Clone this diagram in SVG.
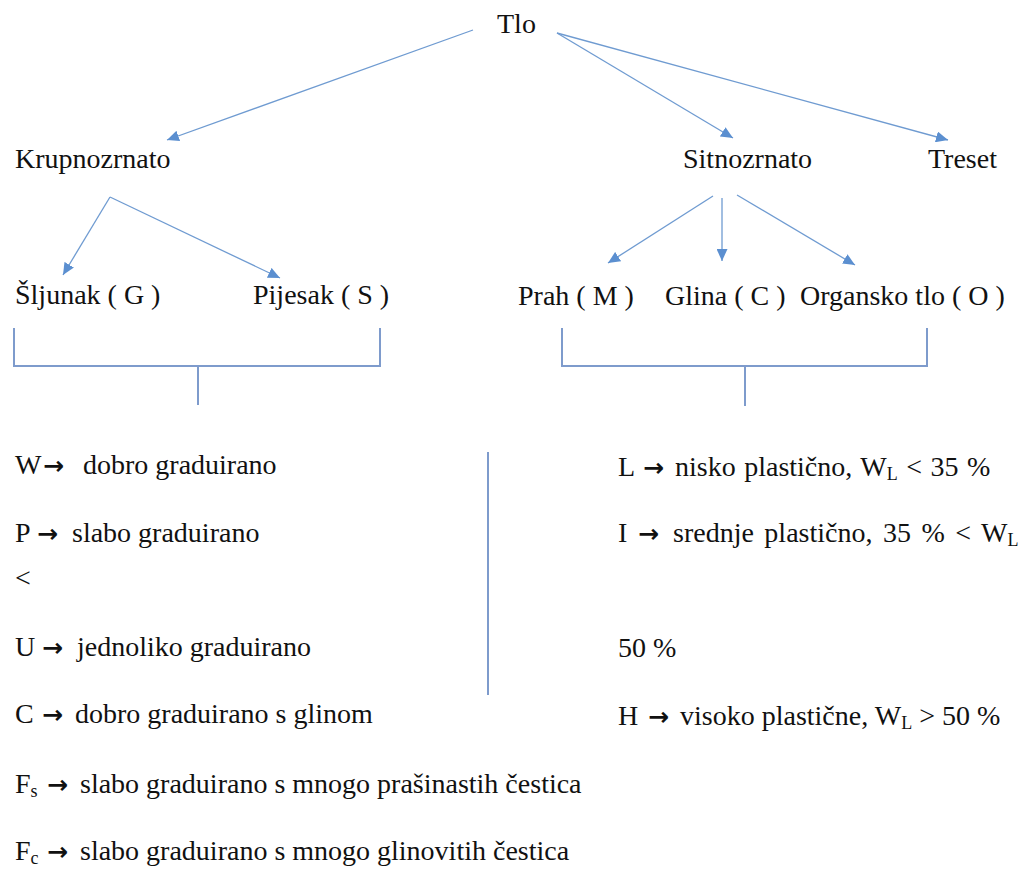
<svg xmlns="http://www.w3.org/2000/svg" width="1028" height="869" viewBox="0 0 1028 869">
<style>
.t{font-size:28px;fill:#111}
.ar{font-weight:bold;font-size:25px}
.sub{font-size:18px}
.con line{stroke:#6f9bd1;stroke-width:1.3;fill:none}
.br{stroke:#7e9bcc;stroke-width:2;fill:none}
</style>
<defs>
<marker id="ah" viewBox="0 0 12 11" refX="12" refY="5.5" markerWidth="12" markerHeight="11" markerUnits="userSpaceOnUse" orient="auto">
<path d="M0,0 L12,5.5 L0,11 Z" fill="#5b8fd0"/>
</marker>
</defs>
<rect width="1028" height="869" fill="#fff"/>
<g id="connectors" class="con">
<line x1="473" y1="30" x2="167" y2="140" marker-end="url(#ah)"/>
<line x1="557" y1="33" x2="733" y2="138" marker-end="url(#ah)"/>
<line x1="557" y1="33" x2="948" y2="140" marker-end="url(#ah)"/>
<line x1="110" y1="197" x2="63" y2="275" marker-end="url(#ah)"/>
<line x1="110" y1="197" x2="280" y2="278" marker-end="url(#ah)"/>
<line x1="713" y1="196" x2="608" y2="263" marker-end="url(#ah)"/>
<line x1="722" y1="198" x2="722" y2="261" marker-end="url(#ah)"/>
<line x1="737" y1="195" x2="855" y2="265" marker-end="url(#ah)"/>
<path class="br" d="M14,328 V366 H380 V328 M198,366 V405"/>
<path class="br" d="M562,328 V366 H927 V328 M745,366 V406"/>
<path class="br" d="M488,452 V695"/>
</g>
<g font-family="Liberation Serif" font-size="28">
<g id="tlo"><text class="t" font-family="Liberation Serif" x="497" y="33">Tlo</text></g>
<g id="krupnozrnato"><text class="t" font-family="Liberation Serif" x="15" y="168">Krupnozrnato</text></g>
<g id="sitnozrnato"><text class="t" font-family="Liberation Serif" x="683" y="168">Sitnozrnato</text></g>
<g id="treset"><text class="t" font-family="Liberation Serif" x="928" y="168">Treset</text></g>
<g id="sljunak"><text class="t" font-family="Liberation Serif" x="15" y="304">Šljunak ( G )</text></g>
<g id="pijesak"><text class="t" font-family="Liberation Serif" x="253" y="304">Pijesak ( S )</text></g>
<g id="prah"><text class="t" font-family="Liberation Serif" x="518" y="305">Prah ( M )</text></g>
<g id="glina"><text class="t" font-family="Liberation Serif" x="665" y="305">Glina ( C )</text></g>
<g id="organsko"><text class="t" font-family="Liberation Serif" x="800" y="305">Organsko tlo ( O )</text></g>
<g id="legend-left">
<text class="t" font-family="Liberation Serif" x="15" y="474">W<tspan class="ar" font-family="DejaVu Sans" x="43">→</tspan><tspan x="83">dobro graduirano</tspan></text>
<text class="t" font-family="Liberation Serif" x="15" y="542">P<tspan class="ar" font-family="DejaVu Sans" x="37">→</tspan><tspan x="72">slabo graduirano</tspan></text>
<text class="t" font-family="Liberation Serif" x="15" y="587">&lt;</text>
<text class="t" font-family="Liberation Serif" x="15" y="656">U<tspan class="ar" font-family="DejaVu Sans" x="42">→</tspan><tspan x="77">jednoliko graduirano</tspan></text>
<text class="t" font-family="Liberation Serif" x="15" y="723">C<tspan class="ar" font-family="DejaVu Sans" x="42">→</tspan><tspan x="75">dobro graduirano s glinom</tspan></text>
<text class="t" font-family="Liberation Serif" x="15" y="793">F<tspan class="sub" dy="4">s</tspan><tspan class="ar" font-family="DejaVu Sans" x="47" dy="-4">→</tspan><tspan x="80">slabo graduirano s mnogo prašinastih čestica</tspan></text>
<text class="t" font-family="Liberation Serif" x="15" y="860">F<tspan class="sub" dy="4">c</tspan><tspan class="ar" font-family="DejaVu Sans" x="47" dy="-4">→</tspan><tspan x="80">slabo graduirano s mnogo glinovitih čestica</tspan></text>
</g>
<g id="legend-right">
<text class="t" font-family="Liberation Serif" x="618" y="476">L<tspan class="ar" font-family="DejaVu Sans" x="643">→</tspan><tspan x="675" word-spacing="1.5">nisko plastično, W</tspan><tspan class="sub" dy="4">L</tspan><tspan dy="-4" word-spacing="1.5"> &lt; 35 %</tspan></text>
<text class="t" font-family="Liberation Serif" x="618" y="542">I<tspan class="ar" font-family="DejaVu Sans" x="638">→</tspan><tspan x="673" word-spacing="3.5">srednje plastično, 35 % &lt; W</tspan><tspan class="sub" dy="4">L</tspan></text>
<text class="t" font-family="Liberation Serif" x="618" y="657">50 %</text>
<text class="t" font-family="Liberation Serif" x="618" y="725">H<tspan class="ar" font-family="DejaVu Sans" x="648">→</tspan><tspan x="680">visoko plastične, W</tspan><tspan class="sub" dy="4">L</tspan><tspan dy="-4"> &gt; 50 %</tspan></text>
</g>
</g>
</svg>
